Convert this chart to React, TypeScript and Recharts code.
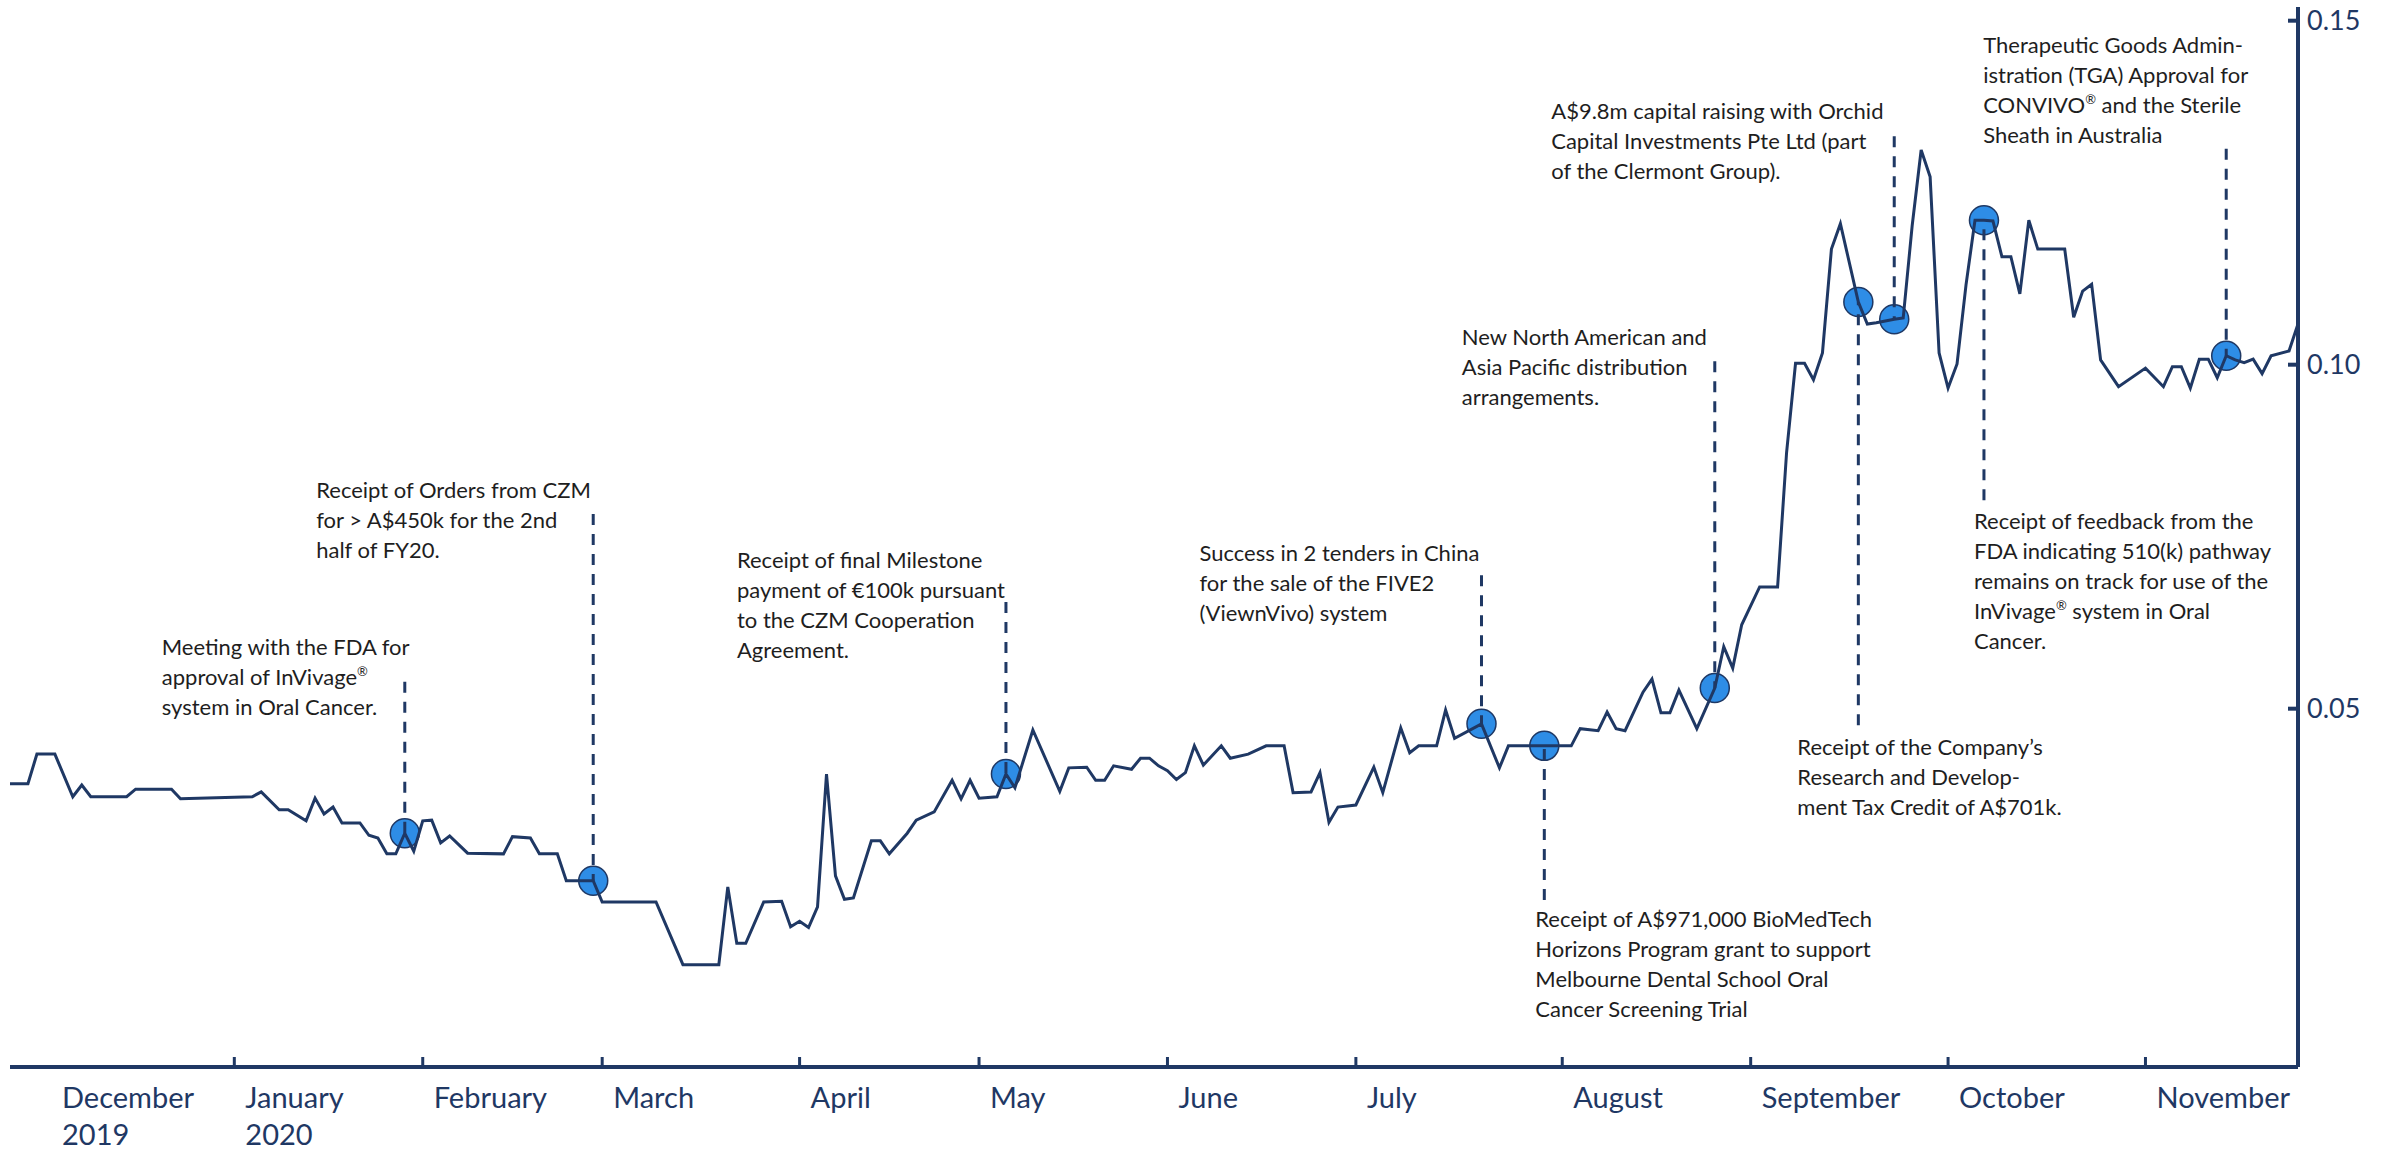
import React from "react";
import { LineChart, Line, XAxis, YAxis, ReferenceLine } from "recharts";

const NAVY = "#1f3864";
const BLUE = "#2e8de6";
const INK = "#1e1e1e";

// trading-day index from the start of the series (late Nov 2019) and close price, A$
const days = [
  0, 2, 3, 5, 7, 8, 9, 13, 14, 18, 19, 27, 28, 30, 31, 33, 34, 35, 36, 37,
  39, 40, 41, 42, 43, 44, 45, 46, 47, 48, 49, 51, 55, 56, 58, 59, 61, 62, 65, 66,
  72, 75, 79, 80, 81, 82, 84, 86, 87, 88, 89, 90, 91, 92, 93, 94, 96, 97, 98, 100,
  101, 103, 105, 106, 107, 108, 110, 111, 112, 114, 117, 118, 120, 121, 122, 123, 125, 126, 127, 128,
  129, 130, 131, 132, 133, 135, 136, 138, 140, 142, 143, 145, 146, 147, 148, 150, 152, 153, 155, 156,
  157, 159, 160, 161, 164, 166, 167, 171, 174, 175, 177, 178, 179, 180, 182, 183, 184, 185, 186, 188,
  190, 191, 192, 193, 195, 197, 198, 199, 200, 201, 202, 203, 204, 206, 207, 208, 210, 211, 212, 213,
  214, 215, 216, 217, 218, 219, 220, 221, 222, 223, 224, 225, 226, 229, 230, 231, 232, 233, 235, 238,
  240, 241, 242, 243, 244, 245, 246, 247, 248, 249, 250, 251, 252, 254, 255,
];
const prices = [
  0.0391, 0.0391, 0.0434, 0.0434, 0.0372, 0.0389, 0.0372, 0.0372, 0.0383, 0.0383, 0.0369, 0.0372, 0.0379, 0.0353, 0.0353, 0.0337, 0.037, 0.0347, 0.0357, 0.0334,
  0.0334, 0.0316, 0.0312, 0.0289, 0.0289, 0.0319, 0.0293, 0.0337, 0.0338, 0.0305, 0.0315, 0.029, 0.0289, 0.0314, 0.0312, 0.0289, 0.0289, 0.025, 0.025, 0.0219,
  0.0219, 0.0128, 0.0128, 0.0241, 0.0159, 0.0159, 0.0219, 0.022, 0.0183, 0.0191, 0.0182, 0.0212, 0.0405, 0.0257, 0.0223, 0.0225, 0.0308, 0.0308, 0.0289, 0.0319,
  0.0338, 0.035, 0.0396, 0.0369, 0.0396, 0.037, 0.0372, 0.0405, 0.0385, 0.0469, 0.038, 0.0414, 0.0415, 0.0396, 0.0396, 0.0417, 0.0412, 0.0428, 0.0428, 0.0417,
  0.041, 0.0397, 0.0407, 0.0446, 0.0418, 0.0446, 0.0428, 0.0434, 0.0446, 0.0446, 0.0378, 0.0379, 0.0407, 0.0335, 0.0357, 0.036, 0.0415, 0.0378, 0.0472, 0.0436,
  0.0446, 0.0446, 0.0498, 0.0457, 0.0478, 0.0414, 0.0446, 0.0446, 0.0446, 0.0471, 0.0468, 0.0495, 0.0471, 0.0468, 0.0524, 0.0543, 0.0494, 0.0494, 0.0527, 0.0471,
  0.053, 0.059, 0.0559, 0.0622, 0.0677, 0.0677, 0.0872, 0.1002, 0.1002, 0.0978, 0.1017, 0.1168, 0.1205, 0.1091, 0.1059, 0.1061, 0.1066, 0.1068, 0.1202, 0.1312,
  0.1273, 0.1017, 0.0966, 0.1001, 0.1116, 0.121, 0.121, 0.1209, 0.1157, 0.1157, 0.1103, 0.121, 0.1168, 0.1168, 0.1069, 0.1107, 0.1117, 0.1007, 0.0968, 0.0995,
  0.0968, 0.0997, 0.0997, 0.0966, 0.1008, 0.1008, 0.0981, 0.1013, 0.1007, 0.1003, 0.1008, 0.0987, 0.1013, 0.102, 0.1059,
];

const monthLabels = [
  ["December", "2019"], ["January", "2020"], ["February"], ["March"], ["April"], ["May"],
  ["June"], ["July"], ["August"], ["September"], ["October"], ["November"],
];
const tradingDays = [25, 21, 20, 22, 20, 21, 21, 23, 21, 22, 22, 18];
const priceTicks = [0.05, 0.1, 0.15];

const monthStarts = tradingDays.map((_, k) =>
  tradingDays.slice(0, k).reduce((a, b) => a + b, 0)
);
const lastDay = monthStarts[monthStarts.length - 1] + tradingDays[tradingDays.length - 1] - 1;

const markerDays = [44, 65, 111, 164, 171, 190, 206, 210, 220, 247];

const events = [
  { day: 44, to: 0.0539, dx: -243, dy: -27, lines: ["Meeting with the FDA for", "approval of InVivage®", "system in Oral Cancer."] },
  { day: 65, to: 0.0783, dx: -277, dy: -16, lines: ["Receipt of Orders from CZM", "for > A$450k for the 2nd", "half of FY20."] },
  { day: 111, to: 0.0655, dx: -269, dy: -34, lines: ["Receipt of final Milestone", "payment of €100k pursuant", "to the CZM Cooperation", "Agreement."] },
  { day: 164, to: 0.0694, dx: -282, dy: -14, lines: ["Success in 2 tenders in China", "for the sale of the FIVE2", "(ViewnVivo) system"] },
  { day: 171, to: 0.0222, below: true, dx: -9, dy: 27, lines: ["Receipt of A$971,000 BioMedTech", "Horizons Program grant to support", "Melbourne Dental School Oral", "Cancer Screening Trial"] },
  { day: 190, to: 0.1005, dx: -253, dy: -16, lines: ["New North American and", "Asia Pacific distribution", "arrangements."] },
  { day: 210, to: 0.1332, dx: -343, dy: -17, lines: ["A$9.8m capital raising with Orchid", "Capital Investments Pte Ltd (part", "of the Clermont Group)."] },
  { day: 206, to: 0.0476, below: true, dx: -61, dy: 30, lines: ["Receipt of the Company’s", "Research and Develop-", "ment Tax Credit of A$701k."] },
  { day: 220, to: 0.0803, below: true, dx: -10, dy: 29, lines: ["Receipt of feedback from the", "FDA indicating 510(k) pathway", "remains on track for use of the", "InVivage® system in Oral", "Cancer."] },
  { day: 247, to: 0.1314, dx: -243, dy: -96, lines: ["Therapeutic Goods Admin-", "istration (TGA) Approval for", "CONVIVO® and the Sterile", "Sheath in Australia"] },
];

const rows = days.map((d, k) => ({
  day: d,
  price: prices[k],
  marker: markerDays.includes(d) ? prices[k] : null,
}));

const priceAt = (d: number) => prices[days.indexOf(d)];

function withReg(line: string) {
  const parts = line.split("®");
  const out: React.ReactNode[] = [];
  parts.forEach((p, i) => {
    out.push(<tspan key={"p" + i} dy={i > 0 ? 9 : 0}>{p}</tspan>);
    if (i < parts.length - 1)
      out.push(<tspan key={"r" + i} fontSize={13} dy={-9}>®</tspan>);
  });
  return out;
}

function EventText(props: any) {
  const vb = props.viewBox || {};
  const { ev } = props;
  const baseY = (ev.below ? vb.y + vb.height : vb.y) + ev.dy;
  const x = vb.x + ev.dx;
  return (
    <text fontFamily="Lato" fontSize={22} fill={INK}>
      {ev.lines.map((l: string, i: number) => (
        <tspan key={i} x={x} y={baseY + i * 30}>
          {withReg(l)}
        </tspan>
      ))}
    </text>
  );
}

function MonthTick({ x, y, payload }: any) {
  const k = monthStarts.indexOf(payload.value);
  if (k < 0) return null;
  const tx = k === 0 ? x + 52 : x + 11;
  return (
    <g>
      {k > 0 && <line x1={x} x2={x} y1={y} y2={y - 10} stroke={NAVY} strokeWidth={3} />}
      <text x={tx} y={y + 41} fontFamily="Lato" fontSize={29} fill={NAVY}>
        {monthLabels[k].map((l, i) => (
          <tspan key={i} x={tx} dy={i === 0 ? 0 : 37}>
            {l}
          </tspan>
        ))}
      </text>
    </g>
  );
}

export default function App() {
  return (
    <div style={{ position: "absolute", left: 0, top: 0, background: "#fff" }}>
      <LineChart
        width={2389}
        height={1150}
        data={rows}
        margin={{ top: 7, right: 0, bottom: 0, left: 10 }}
      >
        <XAxis
          dataKey="day"
          type="number"
          domain={[0, lastDay]}
          allowDataOverflow
          ticks={monthStarts}
          interval={0}
          tickLine={false}
          tickSize={0}
          tickMargin={0}
          axisLine={{ stroke: NAVY, strokeWidth: 4 }}
          tick={<MonthTick />}
          height={83}
        />
        <YAxis
          orientation="right"
          type="number"
          domain={[-0.00208, 0.15199]}
          allowDataOverflow
          ticks={priceTicks}
          interval={0}
          tickFormatter={(v: number) => v.toFixed(2)}
          tickSize={-10}
          tickMargin={19}
          axisLine={{ stroke: NAVY, strokeWidth: 4 }}
          tickLine={{ stroke: NAVY, strokeWidth: 4 }}
          tick={{ fill: NAVY, fontSize: 27, fontFamily: "Lato" }}
          width={91}
        />
        {/* event markers sit underneath the price line */}
        <Line
          dataKey="marker"
          stroke="none"
          dot={{ r: 14.5, fill: BLUE, stroke: NAVY, strokeWidth: 1.5 }}
          activeDot={false}
          isAnimationActive={false}
          zIndex={100}
        />
        <Line
          dataKey="price"
          type="linear"
          stroke={NAVY}
          strokeWidth={3}
          dot={false}
          activeDot={false}
          isAnimationActive={false}
          zIndex={1500}
        />
        {events.map((ev, i) => (
          <ReferenceLine
            key={i}
            segment={[
              { x: ev.day, y: ev.to },
              { x: ev.day, y: priceAt(ev.day) },
            ]}
            stroke={NAVY}
            strokeWidth={3}
            strokeDasharray="11 9"
            zIndex={1600}
            label={(p: any) => <EventText {...p} ev={ev} />}
          />
        ))}
      </LineChart>
    </div>
  );
}
